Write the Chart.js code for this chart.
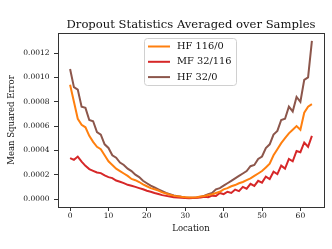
<!DOCTYPE html>
<html>
<head>
<meta charset="utf-8">
<script src="https://cdn.jsdelivr.net/npm/chart.js@4/dist/chart.umd.min.js"></script>
<style>
html,body{margin:0;padding:0;background:#fff;}
#c{display:block;}
</style>
</head>
<body>
<canvas id="c" width="332" height="249"></canvas>
<script>
const locations = [0,1,2,3,4,5,6,7,8,9,10,11,12,13,14,15,16,17,18,19,20,21,22,23,24,25,26,27,28,29,30,31,32,33,34,35,36,37,38,39,40,41,42,43,44,45,46,47,48,49,50,51,52,53,54,55,56,57,58,59,60,61,62,63];

const hf116 = [0.00094,0.00080,0.00066,0.00061,0.00059,0.00052,0.00047,0.00043,0.00041,0.00036,
  0.00031,0.00028,0.00025,0.00023,0.00021,0.00019,0.000165,0.000155,0.00014,0.00012,
  0.000105,0.00009,0.00008,0.00007,0.000055,0.000045,0.000035,0.000028,0.000022,0.000018,
  0.000015,0.000012,0.000012,0.000015,0.00002,0.000025,0.000033,0.00004,0.00005,0.00006,
  0.00008,0.00009,0.000105,0.000115,0.00013,0.00014,0.000155,0.00017,0.00019,0.00021,
  0.00023,0.00026,0.00029,0.00036,0.00041,0.00046,0.00050,0.00054,0.00057,0.00060,
  0.00057,0.00071,0.00076,0.00078];

const mf32 = [0.000336,0.000322,0.000349,0.000308,0.000273,0.000246,0.000232,0.000218,0.000213,0.000194,
  0.00018,0.000172,0.000152,0.000142,0.000131,0.000117,0.000109,0.0001,0.00009,0.00008,
  0.000068,0.00006,0.00005,0.000042,0.000032,0.000026,0.00002,0.000015,0.000012,0.00001,
  0.000008,0.000007,0.000008,0.00001,0.000012,0.000018,0.000015,0.000028,0.000025,0.00005,
  0.00004,0.00006,0.00005,0.000078,0.000065,0.0001,0.000085,0.000125,0.000108,0.00015,
  0.000135,0.000185,0.000165,0.000225,0.000205,0.000275,0.00025,0.00033,0.00031,0.000395,
  0.000385,0.000465,0.00043,0.00052];

const hf32 = [0.00107,0.00092,0.00090,0.00076,0.00075,0.00065,0.00064,0.00055,0.00053,0.00045,
  0.00042,0.00036,0.00034,0.00030,0.00028,0.00025,0.00023,0.00020,0.00018,0.00015,
  0.00013,0.00011,0.000095,0.00008,0.000065,0.00005,0.00004,0.00003,0.000024,0.000018,
  0.000013,0.00001,0.00001,0.000013,0.000018,0.000028,0.00004,0.00005,0.00008,0.00009,
  0.00011,0.00013,0.00015,0.00017,0.00019,0.00021,0.00023,0.00027,0.00028,0.00033,
  0.00035,0.00042,0.00045,0.00053,0.00056,0.00065,0.00066,0.00076,0.00072,0.00084,
  0.00080,0.00098,0.00100,0.00130];

const seriesNames = ['HF 116/0','MF 32/116','HF 32/0'];
const seriesColors = ['#ff7f0e','#d62728','#8c564b'];
const xTicks = [0,10,20,30,40,50,60];
const yTicks = [0,0.0002,0.0004,0.0006,0.0008,0.0010,0.0012];
const titleText = 'Dropout Statistics Averaged over Samples';

const FONT = "'DejaVu Serif', serif";
const toPts = arr => arr.map((v,i)=>({x: locations[i], y: v}));

const frameAndLegend = {
  id: 'frameAndLegend',
  afterDraw(chart) {
    const ctx = chart.ctx;
    const a = chart.chartArea;
    ctx.save();
    ctx.strokeStyle = '#333';
    ctx.lineWidth = 1;
    ctx.strokeRect(Math.round(a.left)+0.5, Math.round(a.top)+0.5, Math.round(a.right-a.left), Math.round(a.bottom-a.top));
    // title
    ctx.fillStyle = '#111';
    ctx.font = "11.6px " + FONT;
    ctx.textAlign = 'center';
    ctx.textBaseline = 'middle';
    ctx.fillText(titleText, (a.left + a.right)/2, 25);
    // legend
    const lx = 144.5, ly = 38.5, lw = 92, lh = 47, r = 3;
    ctx.beginPath();
    ctx.moveTo(lx+r, ly);
    ctx.lineTo(lx+lw-r, ly); ctx.quadraticCurveTo(lx+lw, ly, lx+lw, ly+r);
    ctx.lineTo(lx+lw, ly+lh-r); ctx.quadraticCurveTo(lx+lw, ly+lh, lx+lw-r, ly+lh);
    ctx.lineTo(lx+r, ly+lh); ctx.quadraticCurveTo(lx, ly+lh, lx, ly+lh-r);
    ctx.lineTo(lx, ly+r); ctx.quadraticCurveTo(lx, ly, lx+r, ly);
    ctx.closePath();
    ctx.fillStyle = 'rgba(255,255,255,0.8)';
    ctx.fill();
    ctx.strokeStyle = '#d0d0d0';
    ctx.stroke();
    ctx.font = "9.8px " + FONT;
    ctx.textBaseline = 'middle';
    ctx.textAlign = 'left';
    chart.data.datasets.forEach((ds, i) => {
      const y = 46.5 + i*15.3;
      ctx.strokeStyle = ds.borderColor;
      ctx.lineWidth = 2;
      ctx.beginPath();
      ctx.moveTo(148, y); ctx.lineTo(170, y);
      ctx.stroke();
      ctx.fillStyle = '#111';
      ctx.fillText(ds.label, 177, y);
    });
    ctx.restore();
  }
};

new Chart(document.getElementById('c'), {
  type: 'line',
  data: {
    datasets: [
      {label: seriesNames[0], data: toPts(hf116), borderColor: seriesColors[0]},
      {label: seriesNames[1], data: toPts(mf32), borderColor: seriesColors[1]},
      {label: seriesNames[2], data: toPts(hf32), borderColor: seriesColors[2]}
    ].map(d => Object.assign(d, {borderWidth: 2, pointRadius: 0, tension: 0, fill: false, backgroundColor: d.borderColor}))
  },
  options: {
    responsive: false,
    devicePixelRatio: 1,
    animation: false,
    layout: {padding: {left: 0, right: 8, top: 33, bottom: 0}},
    plugins: {
      legend: {display: false},
      tooltip: {enabled: false},
      title: {display: false}
    },
    scales: {
      x: {
        type: 'linear',
        min: -3.15, max: 66.15,
        afterBuildTicks: s => { s.ticks = xTicks.map(v => ({value: v})); },
        afterFit: s => { s.height = 42; },
        ticks: {color: '#111', font: {family: FONT, size: 7.5}, padding: 1, maxRotation: 0, autoSkip: false},
        grid: {display: true, drawOnChartArea: false, drawTicks: true, tickLength: 4, color: '#333'},
        border: {display: true, color: '#333'},
        title: {display: true, text: 'Location', color: '#111', font: {family: FONT, size: 8.5}, padding: {top: 0, bottom: 15}}
      },
      y: {
        type: 'linear',
        min: -0.0000655, max: 0.0013655,
        afterBuildTicks: s => { s.ticks = yTicks.map(v => ({value: v})); },
        afterFit: s => { s.width = 58; },
        ticks: {color: '#111', font: {family: FONT, size: 7.5}, padding: 4.5, callback: v => v.toFixed(4), autoSkip: false},
        grid: {display: true, drawOnChartArea: false, drawTicks: true, tickLength: 4, color: '#333'},
        border: {display: true, color: '#333'},
        title: {display: true, text: 'Mean Squared Error', color: '#111', font: {family: FONT, size: 8.5}, padding: {top: 7, bottom: 0}}
      }
    }
  },
  plugins: [frameAndLegend]
});
</script>
</body>
</html>
